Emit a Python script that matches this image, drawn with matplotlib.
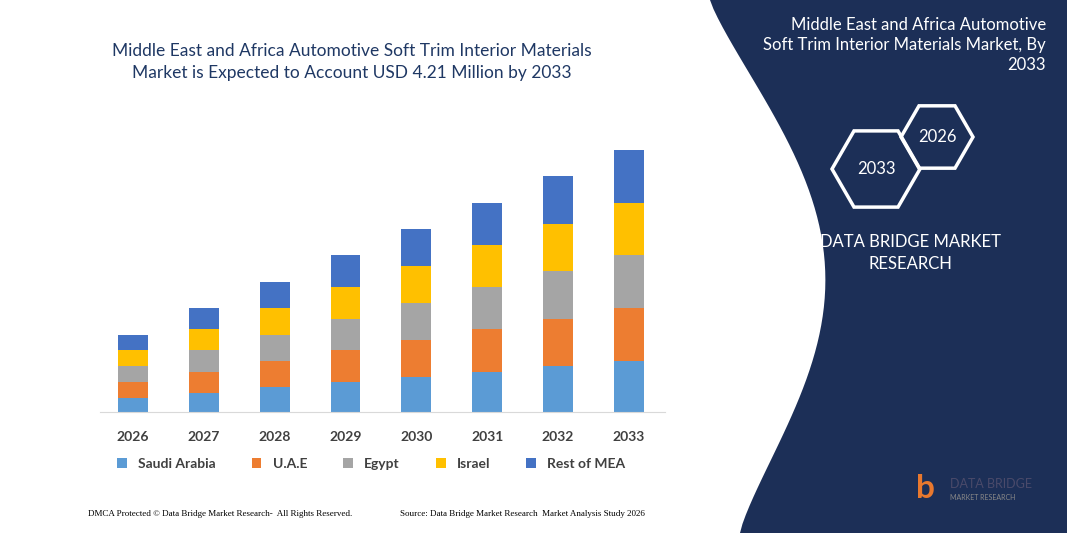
import matplotlib
matplotlib.use("Agg")
import matplotlib.pyplot as plt
from matplotlib.patches import Polygon, RegularPolygon
import numpy as np

plt.rcParams["font.family"]=["Lato","DejaVu Sans"]

years = ["2026","2027","2028","2029","2030","2031","2032","2033"]
saudi = [14,19,25,30,35,40,46,51]
uae = [16,21,26,32,37,43,47,53]
egypt = [16,22,26,31,37,42,48,53]
israel = [16,21,27,32,37,42,47,52]
rest = [15,21,26,32,37,42,48,53]
series = [("Saudi Arabia",saudi,"#5B9BD5"),("U.A.E",uae,"#ED7D31"),("Egypt",egypt,"#A5A5A5"),
          ("Israel",israel,"#FFC000"),("Rest of MEA",rest,"#4472C4")]

W,H=1067,533
fig=plt.figure(figsize=(W/100,H/100),dpi=100)
fig.patch.set_facecolor("white")
def fx(x): return x/W
def fy(y): return 1-y/H

ov=fig.add_axes([0,0,1,1]); ov.set_xlim(0,W); ov.set_ylim(H,0); ov.axis("off")
t=np.linspace(0,1,60)
curve=[(710+100*np.sin(np.pi*s)**1.2+30*s, 533*s) for s in t]
ov.add_patch(Polygon(curve+[(W,H),(W,0)],closed=True,fc="#1C2F57",ec="none"))
ov.add_patch(RegularPolygon((876,169),6,radius=44,orientation=np.pi/6,fill=False,ec="white",lw=2.5))
ov.add_patch(RegularPolygon((937,137),6,radius=36,orientation=np.pi/6,fill=False,ec="white",lw=2.5))
ov.text(876,169,"2033",color="white",fontsize=12,ha="center",va="center")
ov.text(937,137,"2026",color="white",fontsize=12,ha="center",va="center")
ov.text(1046,45,"Middle East and Africa Automotive\nSoft Trim Interior Materials Market, By\n2033",
        color="white",fontsize=12,ha="right",va="center",linespacing=1.3)
ov.text(910,253,"DATA BRIDGE MARKET\nRESEARCH",color="white",fontsize=12,ha="center",va="center",linespacing=1.5)
ov.text(352,62,"Middle East and Africa Automotive Soft Trim Interior Materials\nMarket is Expected to Account USD 4.21 Million by 2033",
        color="#1F3864",fontsize=12.5,ha="center",va="center",linespacing=1.4)
ov.text(88,514,"DMCA Protected © Data Bridge Market Research-  All Rights Reserved.",fontsize=6.5,family="Liberation Serif",va="center")
ov.text(400,514,"Source: Data Bridge Market Research  Market Analysis Study 2026",fontsize=6.5,family="Liberation Serif",va="center")
ov.text(950,484,"DATA BRIDGE",color="#4a4a6a",fontsize=9,ha="left",va="center")
ov.text(950,497,"MARKET RESEARCH",color="#888",fontsize=5,ha="left",va="center")
ov.text(925,488,"b",color="#E8782E",fontsize=24,fontweight="bold",ha="center",va="center")

ax=fig.add_axes([fx(100),fy(412),fx(565),(412-140)/H])
x=np.arange(len(years))
bottom=np.zeros(len(years))
for name,vals,c in series:
    ax.bar(x,vals,0.42,bottom=bottom,color=c,label=name)
    bottom+=np.array(vals)
ax.set_xlim(-0.466,7.51); ax.set_ylim(0,272)
ax.set_facecolor("none")
for s in ["top","right","left"]: ax.spines[s].set_visible(False)
ax.spines["bottom"].set_color("#D9D9D9")
ax.set_yticks([])
ax.set_xticks(x); ax.set_xticklabels(years,fontsize=10,fontweight="bold",color="#404040")
ax.tick_params(axis="x",length=0,pad=14)
ax.legend(loc="center",bbox_to_anchor=(0.48,-0.19),ncol=5,frameon=False,
          handlelength=0.7,handleheight=0.7,columnspacing=2.6,labelcolor="#404040",
          prop={"weight":"bold","size":10})
fig.savefig("out.png",dpi=100)
